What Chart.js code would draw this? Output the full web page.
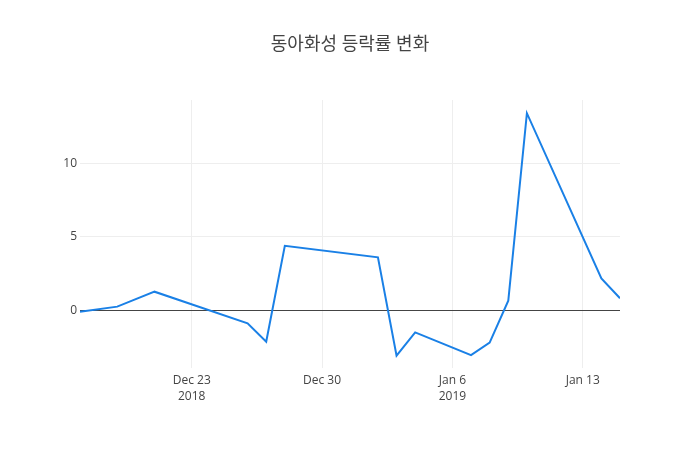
<!DOCTYPE html>
<html>
<head>
<meta charset="utf-8">
<script src="https://cdn.jsdelivr.net/npm/chart.js@4"></script>
<style>
  html, body { margin: 0; padding: 0; background: #fff; }
  #wrap { width: 700px; height: 450px; }
</style>
</head>
<body>
<div id="wrap"><canvas id="chart"></canvas></div>
<script>
// trading days and daily change (%)
const dates = ['2018-12-17', '2018-12-19', '2018-12-21', '2018-12-26', '2018-12-27', '2018-12-28',
    '2019-01-02', '2019-01-03', '2019-01-04', '2019-01-07', '2019-01-08', '2019-01-09',
    '2019-01-10', '2019-01-14', '2019-01-15'];
const changes = [-0.1, 0.25, 1.27, -0.89, -2.14, 4.4, 3.61, -3.09, -1.5, -3.05, -2.2, 0.65, 13.43, 2.18, 0.82];

const xTickDates = ['2018-12-23', '2018-12-30', '2019-01-06', '2019-01-13'];
const xTickLabels = [['Dec 23', '2018'], ['Dec 30'], ['Jan 6', '2019'], ['Jan 13']];
const yTicks = [0, 5, 10];

const startDate = dates[0];
const dayOffset = d => (Date.parse(d) - Date.parse(startDate)) / 86400000;

const points = dates.map((d, i) => ({ x: dayOffset(d), y: changes[i] }));
const xTickValues = xTickDates.map(dayOffset);

const fontFamily = "'Open Sans', 'Noto Sans CJK KR', sans-serif";
const textColor = '#444';

new Chart(document.getElementById('chart').getContext('2d'), {
    type: 'line',
    data: {
        datasets: [{
            label: '등락률',
            data: points,
            borderColor: '#1a80e6',
            borderWidth: 2,
            pointRadius: 0,
            tension: 0,
            fill: false
        }]
    },
    options: {
        responsive: true,
        maintainAspectRatio: false,
        animation: false,
        layout: { padding: 0 },
        plugins: {
            legend: { display: false },
            tooltip: { enabled: false },
            title: {
                display: true,
                text: '동아화성 등락률 변화',
                color: textColor,
                font: { family: fontFamily, size: 18, weight: 'normal', lineHeight: 1.2 },
                padding: { top: 34, bottom: 44.4 }
            }
        },
        scales: {
            x: {
                type: 'linear',
                min: 0,
                max: dayOffset('2019-01-15'),
                afterBuildTicks: scale => { scale.ticks = xTickValues.map(v => ({ value: v })); },
                afterFit: scale => { scale.height = 82; },
                ticks: {
                    color: textColor,
                    padding: 4,
                    maxRotation: 0,
                    autoSkip: false,
                    font: { family: fontFamily, size: 12, lineHeight: 1.35 },
                    callback: (value, index) => xTickLabels[index]
                },
                grid: { color: '#eee', drawTicks: false, tickLength: 0 },
                border: { display: false }
            },
            y: {
                min: -3.93,
                max: 14.33,
                afterBuildTicks: scale => { scale.ticks = yTicks.map(v => ({ value: v })); },
                afterFit: scale => { scale.width = 80; },
                ticks: {
                    color: textColor,
                    padding: 3,
                    font: { family: fontFamily, size: 12 }
                },
                grid: {
                    color: ctx => (ctx.tick && ctx.tick.value === 0) ? '#444' : '#eee',
                    lineWidth: 1,
                    drawTicks: false,
                    tickLength: 0
                },
                border: { display: false }
            },
            // empty right margin so the title stays centred on the page
            yRight: {
                position: 'right',
                min: 0,
                max: 1,
                afterBuildTicks: scale => { scale.ticks = []; },
                afterFit: scale => { scale.width = 80; },
                ticks: { display: false },
                grid: { display: false },
                border: { display: false }
            }
        }
    }
});
</script>
</body>
</html>
